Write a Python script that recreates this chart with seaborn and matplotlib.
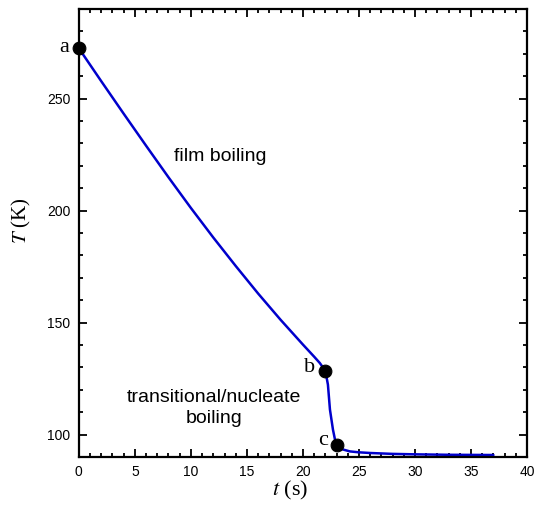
import numpy as np
import pandas as pd
import seaborn as sns
import matplotlib.pyplot as plt
from matplotlib.ticker import MultipleLocator

# --------- Data ---------
t_s = [0, 2, 4, 6, 8, 10, 12, 14, 16, 18, 20, 21, 21.5, 22,
       22.23, 22.41, 22.68, 22.86, 23, 23.4, 24.2, 25, 26, 28, 30, 33, 37]
temp_k = [272.5, 257.8, 243.3, 229.0, 214.9, 201.2, 188.0, 175.3, 163.0, 151.3, 140.2, 134.8, 132.0, 128.5,
          122.3, 111.2, 102.2, 97.8, 95.5, 93.6, 92.5, 92.1, 91.8, 91.4, 91.2, 91.0, 90.9]

point_labels = ["a", "b", "c"]
point_t = [0, 22, 23]
point_temp = [272.5, 128.5, 95.5]

curve = pd.DataFrame({"t": t_s, "T": temp_k})
points = pd.DataFrame({"t": point_t, "T": point_temp, "label": point_labels})

# --------- Plot ---------
sns.set_theme(style="ticks")
plt.rcParams["font.family"] = ["Liberation Sans", "DejaVu Sans"]
plt.rcParams["mathtext.fontset"] = "stix"
plt.rcParams["text.color"] = "black"
plt.rcParams["axes.labelcolor"] = "black"

fig = plt.figure(figsize=(5.4, 5.05), dpi=100)
ax = fig.add_axes([0.146, 0.095, 0.830, 0.887])

sns.lineplot(data=curve, x="t", y="T", ax=ax, color="#0000cc", linewidth=1.8, sort=False)
sns.scatterplot(data=points, x="t", y="T", ax=ax, color="black", s=85, edgecolor="black",
                zorder=5, clip_on=False)

offsets = {"a": (-0.9, 0.2), "b": (-0.87, 1.4), "c": (-0.77, 1.8)}
for _, row in points.iterrows():
    dx, dy = offsets[row["label"]]
    ax.text(row["t"] + dx, row["T"] + dy, row["label"], ha="right", va="center",
            fontsize=16, family="Liberation Serif")

ax.text(12.6, 224, "film boiling", ha="center", va="center", fontsize=14)
ax.text(12.1, 111.8, "transitional/nucleate\nboiling", ha="center", va="center",
        fontsize=14, linespacing=1.3)

ax.set_xlim(0, 40)
ax.set_ylim(90, 290)
ax.xaxis.set_major_locator(MultipleLocator(5))
ax.xaxis.set_minor_locator(MultipleLocator(1))
ax.yaxis.set_major_locator(MultipleLocator(50))
ax.yaxis.set_minor_locator(MultipleLocator(10))
ax.tick_params(which="both", direction="in", top=True, right=True, width=1.3, labelsize=10, colors="black")
ax.tick_params(which="major", length=5.5, pad=6)
ax.tick_params(which="minor", length=3)
for sp in ax.spines.values():
    sp.set_linewidth(1.6)
    sp.set_color("black")

ax.set_xlabel("$t$ (s)", fontsize=16, family="Liberation Serif")
ax.set_ylabel("$T$ (K)", fontsize=15, family="Liberation Serif")
ax.xaxis.set_label_coords(0.471, -0.048)
ax.yaxis.set_label_coords(-0.103, 0.527)

fig.savefig("out.png", dpi=100)
